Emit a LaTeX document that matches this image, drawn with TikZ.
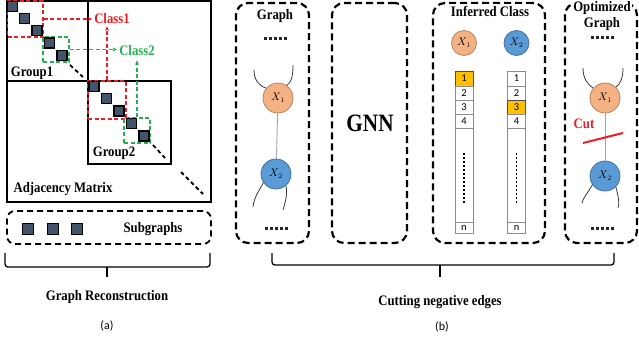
\documentclass[tikz,border=0pt]{standalone}
\usepackage{fontspec}
\setmainfont{Liberation Serif}
\newfontfamily\condserif[FakeStretch=0.88]{Liberation Serif}
\newfontfamily\gnnfont[FakeStretch=0.85]{Liberation Serif}
\newfontfamily\calib{Carlito}
\usetikzlibrary{arrows.meta}
\definecolor{redc}{HTML}{EE1C25}
\definecolor{greenc}{HTML}{22B14C}
\definecolor{sqc}{HTML}{44546A}
\definecolor{ofill}{HTML}{F4B183}
\definecolor{obord}{HTML}{B4835F}
\definecolor{bfill}{HTML}{5B9BD5}
\definecolor{bbord}{HTML}{41719C}
\definecolor{gold}{HTML}{FFC000}
\definecolor{cellgray}{HTML}{8C8C8C}
\definecolor{curvec}{HTML}{3A3A3A}
\newcommand\myDotRow[2]{\foreach \k in {-2,...,2} {\fill[black!85] ({#1+5*\k-1.5},{#2-1.5}) rectangle ++(3,3);}}
\begin{document}
\begin{tikzpicture}[x=1pt,y=-1pt,
  lbl/.style={font=\condserif\bfseries\fontsize{14.5}{16}\selectfont, inner sep=1pt},
  sq/.style={draw=black, line width=1.3pt, fill=sqc, minimum size=10pt, inner sep=0pt},
  solidbox/.style={draw=black, line width=1.8pt, inner sep=0pt},
  rbox/.style={draw=redc, line width=1.5pt, dash pattern=on 4pt off 2.5pt, inner sep=0pt},
  gbox/.style={draw=greenc, line width=1.5pt, dash pattern=on 4pt off 2.5pt, inner sep=0pt},
  rarrow/.style={color=redc, line width=1.2pt, dash pattern=on 4pt off 2.5pt, -{Stealth[length=4.5pt,width=4pt]}},
  garrow/.style={color=greenc, line width=1.2pt, dash pattern=on 4pt off 2.5pt, -{Stealth[length=4.5pt,width=4pt]}},
  diagdash/.style={line width=1.8pt, dash pattern=on 4pt off 3pt},
  panel/.style={draw=black, line width=2.2pt, dash pattern=on 7pt off 4pt, rounded corners=12pt, inner sep=0pt},
  onode/.style={circle, draw=obord, fill=ofill, line width=0.8pt, minimum size=30pt, inner sep=0pt, font=\fontsize{10.5}{12}\selectfont},
  bnode/.style={circle, draw=bbord, fill=bfill, line width=0.8pt, minimum size=30pt, inner sep=0pt, font=\fontsize{10.5}{12}\selectfont},
  curve/.style={draw=curvec, line width=0.8pt},
  link/.style={draw=black!35, line width=0.9pt},
  cell/.style={draw=cellgray, line width=0.7pt, minimum width=18pt, minimum height=14pt, inner sep=0pt, font=\calib\fontsize{10.5}{12}\selectfont},
  hcell/.style={cell, fill=gold, draw=black!70},
  vdots/.style={line width=1.8pt, dash pattern=on 1.5pt off 2.5pt},
  brace/.style={line width=1.3pt, rounded corners=3pt}
]
\useasboundingbox (0,0) rectangle (639,341);

% ---------- (a) adjacency matrix ----------
\node[solidbox, minimum width=204pt, minimum height=201pt] (adj) at (109,101.5) {};
\node[solidbox, minimum width=81pt, minimum height=80pt] (grp1) at (47.5,41) {};
\node[solidbox, minimum width=83pt, minimum height=83pt] (grp2) at (129.5,122.5) {};

\node[rbox, minimum width=35.5pt, minimum height=36pt] (rb1) at (25.25,19) {};
\node[gbox, minimum width=26pt, minimum height=25pt] (gb1) at (56,49.5) {};
\node[rbox, minimum width=38pt, minimum height=38pt] (rb2) at (107,100) {};
\node[gbox, minimum width=26pt, minimum height=25pt] (gb2) at (137,130.5) {};

\node[sq] (s1) at (12.5,6.5) {};
\node[sq] (s2) at (24.5,18.5) {};
\node[sq] (s3) at (37,30.5) {};
\node[sq] (s4) at (49.5,43) {};
\node[sq] (s5) at (62,55.5) {};
\node[sq] (t1) at (94,86.5) {};
\node[sq] (t2) at (106.5,98.5) {};
\node[sq] (t3) at (119,111) {};
\node[sq] (t4) at (131.5,123.5) {};
\node[sq] (t5) at (144,136) {};

\draw[diagdash] (70,65) -- (83,77);
\draw[diagdash] (153,145) -- (165,158);
\draw[diagdash] (181,172) -- (203,194);

\node[lbl, text=redc] (cls1) at (112,19) {Class1};
\node[lbl, text=greenc] (cls2) at (137,51) {Class2};
\node[lbl] (g1lbl) at (32,73) {Group1};
\node[lbl] (g2lbl) at (114,153) {Group2};
\node[lbl] (adjlbl) at (63,189) {Adjacency Matrix};

\draw[rarrow, shorten >=1pt] (rb1.east) -- (rb1.east -| cls1.west);
\draw[rarrow, shorten >=1pt] (rb2.north) -- (rb2.north |- cls1.south);
\draw[garrow, shorten >=1pt] (gb1.east) -- (gb1.east -| cls2.west);
\draw[garrow, shorten >=3pt] (gb2.north) -- (gb2.north |- cls2.south);

% subgraphs
\node[draw=black, line width=1.8pt, dash pattern=on 6pt off 4pt, rounded corners=8pt, minimum width=204pt, minimum height=33pt, inner sep=0pt] (subbox) at (109,227.5) {};
\node[sq, minimum size=10.5pt] (u1) at (28,229) {};
\node[sq, minimum size=10.5pt] (u2) at (53,229) {};
\node[sq, minimum size=10.5pt] (u3) at (77,229) {};
\node[lbl] (sublbl) at (153,229) {Subgraphs};

% ---------- (b) panels ----------
\node[panel, minimum width=73pt, minimum height=240pt] (pg) at (272.5,123) {};
\node[panel, minimum width=75pt, minimum height=240pt] (pn) at (369.5,123) {};
\node[panel, minimum width=112pt, minimum height=240pt] (pi) at (489,123) {};
\node[panel, minimum width=72pt, minimum height=240pt] (po) at (601,123) {};

% Graph panel
\node[lbl, fill=white] (tg) at (275,16) {Graph};
\myDotRow{275}{38}
\node[onode] (g1) at (278,98) {$X_1$};
\node[bnode] (g2) at (276,174) {$X_2$};
\draw[link] (g1) -- (g2);
\coordinate (gtl) at (254,70);
\coordinate (gtr) at (293,65);
\coordinate (gbl) at (253,207);
\coordinate (gbr) at (283,210);
\draw[curve] (g1.140) .. controls (259,86) and (254,80) .. (gtl);
\draw[curve] (g1.55) .. controls (292,82) and (293,74) .. (gtr);
\draw[curve] (g2.215) .. controls (258,192) and (254,198) .. (gbl);
\draw[curve] (g2.310) .. controls (288,194) and (285,203) .. (gbr);
\myDotRow{276}{228}

% GNN panel
\node[font=\gnnfont\bfseries\fontsize{25}{28}\selectfont, inner sep=0pt] (gnn) at (370,123) {GNN};

% Inferred class panel
\node[lbl, fill=white, inner sep=2pt] (ti) at (490,11) {Inferred Class};
\node[onode, minimum size=25pt] (i1) at (464,43) {$X_1$};
\node[bnode, minimum size=25pt] (i2) at (516.5,43) {$X_2$};

\node[cell, minimum height=162pt] (colL) at (464,152) {};
\node[hcell, minimum height=15pt] (l1) at (464,78.5) {1};
\node[cell] (l2) at (464,93) {2};
\node[cell] (l3) at (464,107) {3};
\node[cell] (l4) at (464,121) {4};
\node[cell, minimum height=11pt] (ln) at (464,227.5) {n};
\draw[vdots] (464,153) -- (464,203);

\node[cell, minimum height=162pt] (colR) at (516.5,152) {};
\node[cell, minimum height=15pt] (r1) at (516.5,78.5) {1};
\node[cell] (r2) at (516.5,93) {2};
\node[hcell] (r3) at (516.5,107) {3};
\node[cell] (r4) at (516.5,121) {4};
\node[cell, minimum height=11pt] (rn) at (516.5,227.5) {n};
\draw[vdots] (516.5,153) -- (516.5,203);

% Optimized graph panel
\node[lbl, fill=white, inner sep=1pt] (to1) at (602,8) {Optimized};
\node[lbl] (to2) at (602,24) {Graph};
\myDotRow{602}{37}
\node[onode] (o1) at (605,98) {$X_1$};
\node[bnode] (o2) at (605,176) {$X_2$};
\draw[link] (o1) -- (o2);
\coordinate (otl) at (583,68);
\coordinate (otr) at (623,68);
\coordinate (obl) at (582,203);
\coordinate (obr) at (618,208);
\draw[curve] (o1.140) .. controls (587,84) and (583,78) .. (otl);
\draw[curve] (o1.45) .. controls (621,84) and (623,76) .. (otr);
\draw[curve] (o2.215) .. controls (587,194) and (583,198) .. (obl);
\draw[curve] (o2.315) .. controls (618,196) and (620,203) .. (obr);
\myDotRow{602}{228}
\coordinate (cuta) at (583,143);
\coordinate (cutb) at (623,133);
\draw[draw=redc, line width=2pt] (cuta) -- (cutb);
\node[lbl, text=redc] (cut) at (584,124) {Cut};

% ---------- braces and captions ----------
\draw[brace] (5,253) -- (5,267) -- (210,267) -- (210,253);
\draw[line width=1.3pt] (107,267) -- (107,277);
\draw[brace] (272,253) -- (272,265) -- (614,265) -- (614,253);
\draw[line width=1.3pt] (440,265) -- (440,277);

\node[lbl] (capa) at (107,297) {Graph Reconstruction};
\node[lbl] (capb) at (440,302) {Cutting negative edges};
\node[font=\calib\fontsize{12}{14}\selectfont, inner sep=0pt] (la) at (107,326) {(a)};
\node[font=\calib\fontsize{12}{14}\selectfont, inner sep=0pt] (lb) at (442,327) {(b)};
\end{tikzpicture}
\end{document}
